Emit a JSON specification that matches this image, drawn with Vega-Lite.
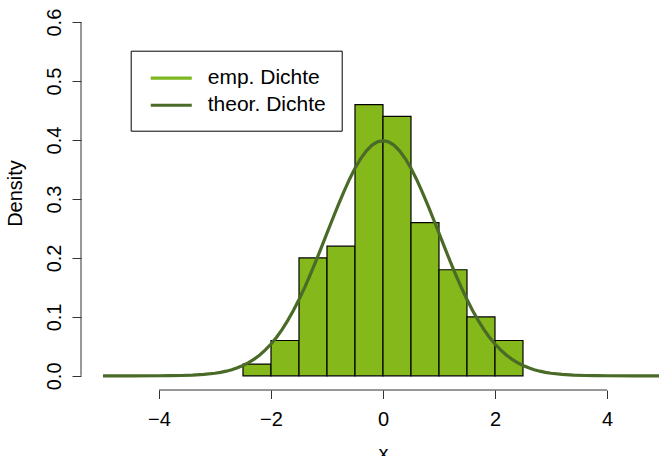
{
  "$schema": "https://vega.github.io/schema/vega-lite/v6.json",
  "width": 578,
  "height": 382,
  "autosize": "none",
  "padding": {"left": 81, "top": 8, "right": 0, "bottom": 66},
  "background": "white",
  "config": {
    "view": {"stroke": null},
    "font": "Liberation Sans"
  },
  "layer": [
    {
      "data": {"values": [
        {"start": -2.5, "end": -2.0, "density": 0.02},
        {"start": -2.0, "end": -1.5, "density": 0.06},
        {"start": -1.5, "end": -1.0, "density": 0.20},
        {"start": -1.0, "end": -0.5, "density": 0.22},
        {"start": -0.5, "end": 0.0, "density": 0.46},
        {"start": 0.0, "end": 0.5, "density": 0.44},
        {"start": 0.5, "end": 1.0, "density": 0.26},
        {"start": 1.0, "end": 1.5, "density": 0.18},
        {"start": 1.5, "end": 2.0, "density": 0.10},
        {"start": 2.0, "end": 2.5, "density": 0.06}
      ]},
      "mark": {"type": "rect", "fill": "#85B81A", "stroke": "black", "strokeWidth": 1.2},
      "encoding": {
        "x": {"field": "start", "type": "quantitative", "title": "x",
              "scale": {"domain": [-5.393, 4.929], "nice": false, "zero": false},
              "axis": {
                "values": [-4, -2, 0, 2, 4],
                "format": "d",
                "domain": false,
                "grid": false,
                "tickSize": 8.5,
                "tickColor": "#333",
                "labelFontSize": 20,
                "labelColor": "black",
                "labelPadding": 10.5,
                "labelFlush": false,
                "labelOverlap": false,
                "titleFontSize": 20,
                "titleFontWeight": "normal",
                "titleColor": "black",
                "titleX": 302,
                "titleY": 69,
                "titleBaseline": "alphabetic",
                "titleAlign": "center"
              }},
        "x2": {"field": "end"},
        "y": {"field": "density", "type": "quantitative", "title": "Density",
              "scale": {"domain": [-0.024, 0.624], "nice": false, "zero": false},
              "axis": {
                "values": [0, 0.1, 0.2, 0.3, 0.4, 0.5, 0.6],
                "format": ".1f",
                "domain": false,
                "grid": false,
                "tickSize": 9,
                "tickColor": "#333",
                "labelAngle": 270,
                "labelAlign": "center",
                "labelBaseline": "alphabetic",
                "labelPadding": 11.6,
                "labelFontSize": 20,
                "labelColor": "black",
                "labelOverlap": false,
                "titleFontSize": 20,
                "titleFontWeight": "normal",
                "titleColor": "black",
                "titleAngle": 270,
                "titleX": -59.6,
                "titleY": 185,
                "titleBaseline": "alphabetic",
                "titleAlign": "center"
              }},
        "y2": {"datum": 0}
      }
    },
    {
      "data": {"values": [
        {"x": -5.0, "density": 0.0000015},
        {"x": -4.5, "density": 0.000016},
        {"x": -4.0, "density": 0.000134},
        {"x": -3.8, "density": 0.000292},
        {"x": -3.6, "density": 0.000612},
        {"x": -3.4, "density": 0.001232},
        {"x": -3.2, "density": 0.002384},
        {"x": -3.0, "density": 0.004432},
        {"x": -2.9, "density": 0.005953},
        {"x": -2.8, "density": 0.007915},
        {"x": -2.7, "density": 0.010421},
        {"x": -2.6, "density": 0.013583},
        {"x": -2.5, "density": 0.017528},
        {"x": -2.4, "density": 0.022395},
        {"x": -2.3, "density": 0.028327},
        {"x": -2.2, "density": 0.035475},
        {"x": -2.1, "density": 0.043984},
        {"x": -2.0, "density": 0.053991},
        {"x": -1.9, "density": 0.065616},
        {"x": -1.8, "density": 0.078950},
        {"x": -1.7, "density": 0.094049},
        {"x": -1.6, "density": 0.110921},
        {"x": -1.5, "density": 0.129518},
        {"x": -1.4, "density": 0.149727},
        {"x": -1.3, "density": 0.171369},
        {"x": -1.2, "density": 0.194186},
        {"x": -1.1, "density": 0.217852},
        {"x": -1.0, "density": 0.241971},
        {"x": -0.9, "density": 0.266085},
        {"x": -0.8, "density": 0.289692},
        {"x": -0.7, "density": 0.312254},
        {"x": -0.6, "density": 0.333225},
        {"x": -0.5, "density": 0.352065},
        {"x": -0.4, "density": 0.368270},
        {"x": -0.3, "density": 0.381388},
        {"x": -0.2, "density": 0.391043},
        {"x": -0.1, "density": 0.396953},
        {"x": 0.0, "density": 0.398942},
        {"x": 0.1, "density": 0.396953},
        {"x": 0.2, "density": 0.391043},
        {"x": 0.3, "density": 0.381388},
        {"x": 0.4, "density": 0.368270},
        {"x": 0.5, "density": 0.352065},
        {"x": 0.6, "density": 0.333225},
        {"x": 0.7, "density": 0.312254},
        {"x": 0.8, "density": 0.289692},
        {"x": 0.9, "density": 0.266085},
        {"x": 1.0, "density": 0.241971},
        {"x": 1.1, "density": 0.217852},
        {"x": 1.2, "density": 0.194186},
        {"x": 1.3, "density": 0.171369},
        {"x": 1.4, "density": 0.149727},
        {"x": 1.5, "density": 0.129518},
        {"x": 1.6, "density": 0.110921},
        {"x": 1.7, "density": 0.094049},
        {"x": 1.8, "density": 0.078950},
        {"x": 1.9, "density": 0.065616},
        {"x": 2.0, "density": 0.053991},
        {"x": 2.1, "density": 0.043984},
        {"x": 2.2, "density": 0.035475},
        {"x": 2.3, "density": 0.028327},
        {"x": 2.4, "density": 0.022395},
        {"x": 2.5, "density": 0.017528},
        {"x": 2.6, "density": 0.013583},
        {"x": 2.7, "density": 0.010421},
        {"x": 2.8, "density": 0.007915},
        {"x": 2.9, "density": 0.005953},
        {"x": 3.0, "density": 0.004432},
        {"x": 3.2, "density": 0.002384},
        {"x": 3.4, "density": 0.001232},
        {"x": 3.6, "density": 0.000612},
        {"x": 3.8, "density": 0.000292},
        {"x": 4.0, "density": 0.000134},
        {"x": 4.5, "density": 0.000016},
        {"x": 5.0, "density": 0.0000015}
      ]},
      "mark": {"type": "line", "strokeWidth": 3.2, "clip": true},
      "encoding": {
        "x": {"field": "x", "type": "quantitative", "title": "x"},
        "y": {"field": "density", "type": "quantitative", "title": "Density"},
        "color": {
          "datum": "theor. Dichte",
          "type": "nominal",
          "scale": {"domain": ["emp. Dichte", "theor. Dichte"], "range": ["#7DB71F", "#4A6B27"]},
          "legend": {
            "orient": "none",
            "legendX": 49.7,
            "legendY": 42.7,
            "title": null,
            "symbolType": "M-2,0H2",
            "symbolSize": 420.25,
            "symbolStrokeWidth": 3.2,
            "labelFontSize": 21,
            "labelColor": "black",
            "labelOffset": 24.5,
            "symbolOffset": 13.2,
            "padding": 15.35,
            "rowPadding": 5.2,
            "strokeColor": "black",
            "fillColor": "white",
            "labelLimit": 400
          }
        }
      }
    },
    {
      "data": {"values": [{}]},
      "mark": {"type": "rule", "color": "#333", "strokeWidth": 1},
      "encoding": {
        "x": {"datum": -4, "type": "quantitative"},
        "x2": {"datum": 4},
        "y": {"datum": -0.024, "type": "quantitative"}
      }
    },
    {
      "data": {"values": [{}]},
      "mark": {"type": "rule", "color": "#333", "strokeWidth": 1},
      "encoding": {
        "x": {"datum": -5.393, "type": "quantitative"},
        "y": {"datum": 0, "type": "quantitative"},
        "y2": {"datum": 0.6}
      }
    }
  ]
}
